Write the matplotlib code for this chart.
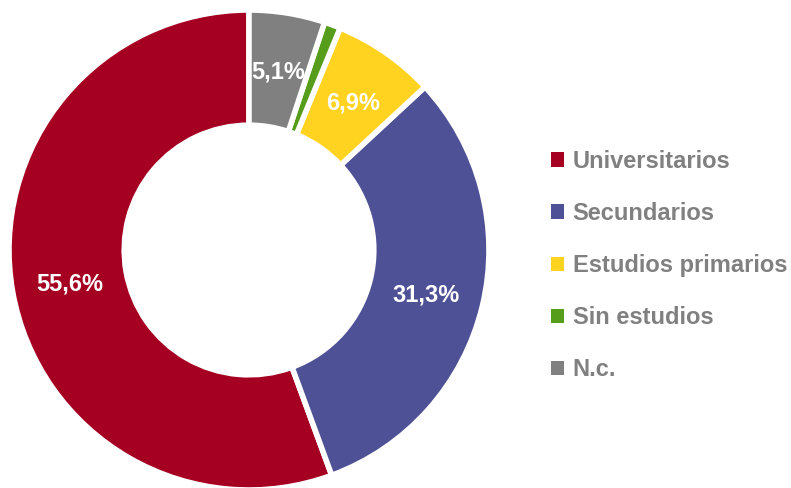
import matplotlib
matplotlib.use("Agg")
import matplotlib.pyplot as plt
from matplotlib.patches import Patch
import numpy as np

categories = ["Universitarios", "Secundarios", "Estudios primarios", "Sin estudios", "N.c."]
values = [55.6, 31.3, 6.9, 1.1, 5.1]
colors = ["#A50021", "#4F5196", "#FFD320", "#579D1C", "#808080"]
labels_shown = [True, True, True, False, True]

plt.rcParams['font.family'] = ['Liberation Sans', 'DejaVu Sans']

fig = plt.figure(figsize=(7.91, 4.88), dpi=100)
ax = fig.add_axes([9/791, -2/488, 480/791, 480/488])

def fmt(v):
    return f"{v:.1f}".replace(".", ",") + "%"

wedges, _ = ax.pie(values, colors=colors, startangle=90, counterclock=True,
                   radius=1, wedgeprops=dict(width=0.48, edgecolor="white", linewidth=4))

# percentage labels in the middle of the ring
for w, v, show in zip(wedges, values, labels_shown):
    if not show:
        continue
    ang = np.deg2rad((w.theta1 + w.theta2) / 2)
    r = 0.76
    ax.text(r * np.cos(ang), r * np.sin(ang), fmt(v), ha="center", va="center_baseline",
            color="white", fontsize=17, fontweight="bold")

ax.set_xlim(-1, 1)
ax.set_ylim(-1, 1)
ax.set_aspect("equal")
ax.axis("off")

handles = [Patch(facecolor=c, edgecolor="none") for c in colors]
leg = fig.legend(handles, categories, loc="center left", bbox_to_anchor=(530/791, 0.456),
                 frameon=False, handlelength=0.55, handleheight=0.55, handletextpad=0.36,
                 labelspacing=1.23, prop=dict(size=17, weight="bold"))
for t in leg.get_texts():
    t.set_color("#808080")

fig.savefig("out.png", dpi=100)
